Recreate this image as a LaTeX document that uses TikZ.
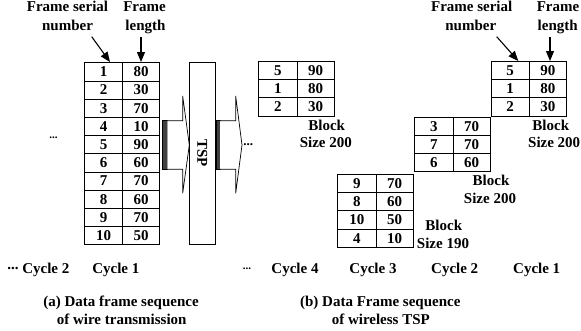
\documentclass[tikz,border=0pt]{standalone}
\usepackage{fontspec}
\setmainfont{Liberation Serif}
\usetikzlibrary{arrows.meta}
\newcommand\frametable[4]{%
  \foreach \a/\b [count=\i] in {#4} {
    \node[cellA] (#1a\i) at ({#2},{#3+(\i-1)*18.2}) {\a};
    \node[cellB] (#1b\i) at ({#2+38.2},{#3+(\i-1)*18.2}) {\b};
  }}
\begin{document}
\begin{tikzpicture}[x=1pt,y=-1pt,
  font=\fontsize{15}{18}\selectfont\bfseries,
  lbl/.style={anchor=base, inner sep=0},
  cellA/.style={draw, line width=0.8pt, minimum width=38.2pt, minimum height=18.2pt, inner sep=0, anchor=north west},
  cellB/.style={draw, line width=0.8pt, minimum width=37.2pt, minimum height=18.2pt, inner sep=0, anchor=north west},
  pointer/.style={-{Triangle[length=10pt,width=8pt]}, line width=1.1pt},
  blockarrow/.style={draw, line width=0.7pt, fill=white, line join=miter},
  barfill/.style={draw, fill=black!75, line width=0.5pt},
  dots/.style={anchor=base, inner sep=0, font=\fontsize{11}{12}\selectfont\bfseries}]
\useasboundingbox (0,0) rectangle (581,330);

% ---------- (a) ----------
\node[lbl] (aFS1) at (67.5,11.7) {Frame serial};
\node[lbl] (aFS2) at (67.5,30.5) {number};
\node[lbl] (aFL1) at (144.5,11.7) {Frame};
\node[lbl] (aFL2) at (145.5,30.5) {length};
\coordinate (aP1s) at (91.7,36.7); \coordinate (aP1e) at (110,62);
\coordinate (aP2s) at (141,36.7);  \coordinate (aP2e) at (141,62);
\draw[pointer] (aP1s) -- (aP1e);
\draw[pointer] (aP2s) -- (aP2e);

\frametable{L}{84}{62.3}{1/80,2/30,3/70,4/10,5/90,6/60,7/70,8/60,9/70,10/50}

\node[dots] (aDots) at (53.5,138) {...};

% block arrows
\path[barfill] (162.7,120.7) rectangle (167.3,169.3);
\draw[blockarrow] (167.3,120.7) -- (182.7,120.7) -- (182.7,96) -- (189.3,145) -- (182.7,193.3) -- (182.7,169.3) -- (167.3,169.3);
\node[draw, line width=0.8pt, fill=white, minimum width=26.3pt, minimum height=182pt, inner sep=0, anchor=north west] (tsp) at (189,62) {};
\node[rotate=-90, inner sep=0] (tspText) at (202.2,153) {TSP};
\path[barfill] (215.8,120.7) rectangle (220,169.3);
\draw[blockarrow] (220,120.7) -- (235.7,120.7) -- (235.7,96) -- (242,145) -- (235.7,193.3) -- (235.7,169.3) -- (220,169.3);
\node[dots, font=\fontsize{13}{14}\selectfont\bfseries] (mDots) at (248.3,145) {...};

\node[lbl] (aC2) at (38.3,273.3) {\raisebox{4pt}{...} Cycle 2};
\node[lbl] (aC1) at (115.8,273.3) {Cycle 1};
\node[lbl] (aCap1) at (121,306.5) {(a) Data frame sequence};
\node[lbl] (aCap2) at (121.7,324.3) {of wire transmission};

% ---------- (b) ----------
\frametable{B}{258.3}{61}{5/90,1/80,2/30}
\node[lbl] (b1L1) at (326.7,130.3) {Block};
\node[lbl] (b1L2) at (325.8,147) {Size 200};

\frametable{C}{414.3}{116.7}{3/70,7/70,6/60}
\node[lbl] (b2L1) at (491,185.3) {Block};
\node[lbl] (b2L2) at (490,203) {Size 200};

\frametable{D}{490.7}{61}{5/90,1/80,2/30}
\node[lbl] (b3L1) at (550.8,130.3) {Block};
\node[lbl] (b3L2) at (554.2,147) {Size 200};

\frametable{E}{337.3}{174}{9/70,8/60,10/50,4/10}
\node[lbl] (b4L1) at (443.8,230) {Block};
\node[lbl] (b4L2) at (443,248) {Size 190};

\node[lbl] (bFS1) at (471.7,11.7) {Frame serial};
\node[lbl] (bFS2) at (470.8,30.5) {number};
\node[lbl] (bFL1) at (558,11.7) {Frame};
\node[lbl] (bFL2) at (557.7,30.5) {length};
\coordinate (bP1s) at (496.7,36.7); \coordinate (bP1e) at (518.3,61);
\coordinate (bP2s) at (550,36.7);   \coordinate (bP2e) at (550,61);
\draw[pointer] (bP1s) -- (bP1e);
\draw[pointer] (bP2s) -- (bP2e);

\node[dots] (bDots) at (247,269.3) {...};
\node[lbl] (bC4) at (295,273.3) {Cycle 4};
\node[lbl] (bC3) at (373,273.3) {Cycle 3};
\node[lbl] (bC2) at (454.7,273.3) {Cycle 2};
\node[lbl] (bC1) at (536.7,273.3) {Cycle 1};
\node[lbl] (bCap1) at (380.3,306.5) {(b) Data Frame sequence};
\node[lbl] (bCap2) at (380.8,324.3) {of wireless TSP};
\end{tikzpicture}
\end{document}
